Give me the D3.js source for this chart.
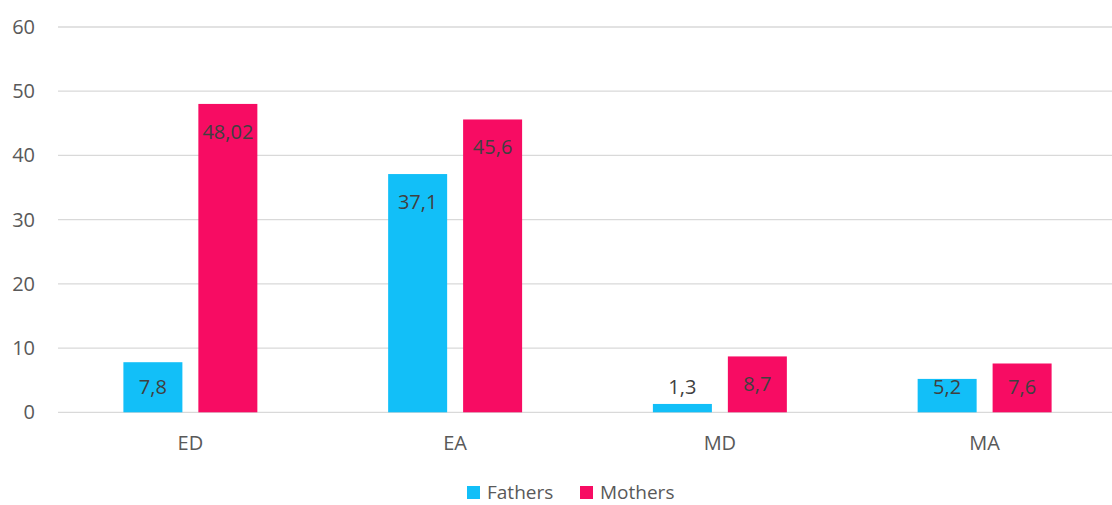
<!DOCTYPE html>
<html>
<head>
<meta charset="utf-8">
<script src="https://cdn.jsdelivr.net/npm/d3@7"></script>
<style>
  body { margin: 0; background: #fff; }
  svg text { font-family: "Open Sans", "Noto Sans", sans-serif; }
</style>
</head>
<body>
<svg width="1112" height="505"></svg>
<script>
var categories = ["ED", "EA", "MD", "MA"];
var seriesNames = ["Fathers", "Mothers"];
var fathers = [7.8, 37.1, 1.3, 5.2];
var mothers = [48.02, 45.6, 8.7, 7.6];
var fathersLabels = ["7,8", "37,1", "1,3", "5,2"];
var mothersLabels = ["48,02", "45,6", "8,7", "7,6"];
var yTicks = [0, 10, 20, 30, 40, 50, 60];
var colors = ["#12BFF8", "#F70C63"];

var svg = d3.select("svg"),
    width = +svg.attr("width"),
    height = +svg.attr("height");

var x0 = d3.scaleBand()
    .domain(categories)
    .range([58, 1117])
    .paddingInner(0.494)
    .paddingOuter(0.247);

var x1 = d3.scaleBand()
    .domain(seriesNames)
    .range([0, x0.bandwidth()])
    .paddingInner(0.213);

var y = d3.scaleLinear()
    .domain([0, 60])
    .range([412.3, 27]);

// gridlines
svg.append("g")
    .selectAll("line")
    .data(yTicks)
    .join("line")
    .attr("x1", 58)
    .attr("x2", width)
    .attr("y1", d => y(d))
    .attr("y2", d => y(d))
    .attr("stroke", "#d9d9d9")
    .attr("stroke-width", 1.3);

// y labels
svg.append("g")
    .selectAll("text")
    .data(yTicks)
    .join("text")
    .attr("x", 35)
    .attr("y", d => y(d))
    .attr("dy", "0.35em")
    .attr("text-anchor", "end")
    .attr("fill", "#595959")
    .attr("font-size", 20)
    .text(d => d);

var rows = categories.map((c, i) => ({
    cat: c,
    vals: [
        {s: "Fathers", v: fathers[i], lab: fathersLabels[i], col: colors[0]},
        {s: "Mothers", v: mothers[i], lab: mothersLabels[i], col: colors[1]}
    ]
}));

var groups = svg.append("g")
    .selectAll("g")
    .data(rows)
    .join("g")
    .attr("transform", d => `translate(${x0(d.cat)},0)`);

groups.selectAll("rect")
    .data(d => d.vals)
    .join("rect")
    .attr("x", d => x1(d.s))
    .attr("y", d => y(d.v))
    .attr("width", x1.bandwidth())
    .attr("height", d => y(0) - y(d.v))
    .attr("fill", d => d.col);

groups.selectAll("text")
    .data(d => d.vals)
    .join("text")
    .attr("x", d => x1(d.s) + x1.bandwidth() / 2)
    .attr("y", d => Math.min(y(d.v) + 28, y(0) - 25))
    .attr("dy", "0.35em")
    .attr("text-anchor", "middle")
    .attr("fill", "#404040")
    .attr("font-size", 20)
    .text(d => d.lab);

// category labels
svg.append("g")
    .selectAll("text")
    .data(categories)
    .join("text")
    .attr("x", d => x0(d) + x0.bandwidth() / 2)
    .attr("y", 443)
    .attr("dy", "0.35em")
    .attr("text-anchor", "middle")
    .attr("fill", "#595959")
    .attr("font-size", 20)
    .text(d => d);

// legend
var legendX = [467, 580];
var legend = svg.append("g")
    .selectAll("g")
    .data(seriesNames)
    .join("g")
    .attr("transform", (d, i) => `translate(${legendX[i]},486)`);

legend.append("rect")
    .attr("width", 13)
    .attr("height", 13)
    .attr("fill", (d, i) => colors[i]);

legend.append("text")
    .attr("x", 20)
    .attr("y", 13)
    .attr("fill", "#595959")
    .attr("font-size", 19)
    .text(d => d);
</script>
</body>
</html>
